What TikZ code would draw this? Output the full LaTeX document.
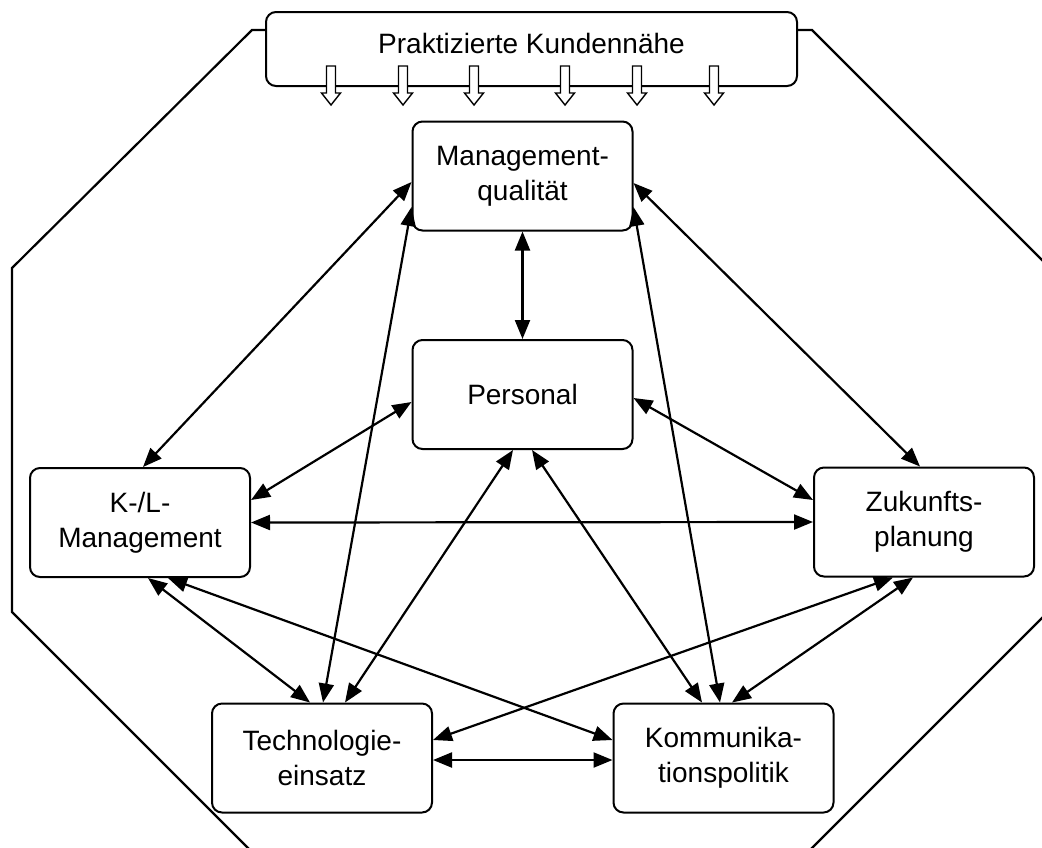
\documentclass[tikz,border=0pt]{standalone}
\usepackage{fontspec}
\setmainfont{Liberation Sans}
\usetikzlibrary{arrows.meta,calc}
\begin{document}
\begin{tikzpicture}[x=0.5pt,y=-0.5pt,
  box/.style={draw,line width=1pt,rounded corners=5pt,fill=white,
    minimum width=110pt,minimum height=54.5pt,align=center,inner sep=0pt,
    font=\fontsize{14pt}{17.5pt}\selectfont},
  lbl/.style={inner sep=0pt,font=\fontsize{14pt}{17.5pt}\selectfont},
  link/.style={line width=1.1pt,{Triangle[length=9.5pt,width=7.5pt]}-{Triangle[length=9.5pt,width=7.5pt]}},
  frame/.style={line width=1.1pt},
  hollow/.style={draw,fill=white,line width=0.7pt,line join=miter}]
\useasboundingbox (0,0) rectangle (1042,847);
\clip (0,0) rectangle (1042,847);
% octagon frame
\draw[frame] (267,30) -- (252,30) -- (12,268) -- (12,612) -- (255,855) -- (805,855)
  -- (1050,610) -- (1050,268) -- (812,30) -- (797,30);
% top box
\node[box,minimum width=265.5pt,minimum height=37pt] (kn) at (531.5,49) {};
\node[lbl] (kntext) at (531.5,43) {Praktizierte Kundennähe};
\foreach \x in {331,403,474,565,637,714}
  \draw[hollow] (\x-4.5,66) -- (\x+4.5,66) -- (\x+4.5,93) -- (\x+9.5,93) -- (\x,105)
    -- (\x-9.5,93) -- (\x-4.5,93) -- cycle;
% main nodes
\node[box] (mq) at (522.5,176) {Management-\\qualität};
\node[box] (pe) at (522.5,394.5) {Personal};
\node[box] (kl) at (140,522.5) {K-/L-\\Management};
\node[box] (zp) at (924,522) {Zukunfts-\\planung};
\node[box] (te) at (322,758) {Technologie-\\einsatz};
\node[box] (ko) at (723.5,758) {Kommunika-\\tionspolitik};
% connectors
\draw[link] ($(mq.west)+(0,6)$) -- ($(kl.north)+(3,0)$);
\draw[link] ($(mq.east)+(0,7)$) -- ($(zp.north)+(-4,0)$);
\draw[link] (mq.south) -- (pe.north);
\draw[link] ($(mq.west)+(0,31)$) -- ($(te.north)+(1,0)$);
\draw[link] ($(mq.east)+(0,31)$) -- ($(ko.north)+(-3.5,0)$);
\draw[link] ($(pe.west)+(0,7.5)$) -- ($(kl.east)+(0,-22.5)$);
\draw[link] ($(pe.east)+(0,3.5)$) -- ($(zp.west)+(0,-22)$);
\draw[link] ($(pe.south)+(-9.5,0)$) -- ($(te.north)+(23,0)$);
\draw[link] ($(pe.south)+(9.5,0)$) -- ($(ko.north)+(-21.5,0)$);
\draw[link] (kl.east) -- (zp.west);
\draw[link] ($(kl.south)+(8,0)$) -- ($(te.north)+(-12,0)$);
\draw[link] ($(kl.south)+(28,0)$) -- ($(ko.west)+(0,-18)$);
\draw[link] ($(zp.south)+(-31,0)$) -- ($(te.east)+(0,-18)$);
\draw[link] ($(zp.south)+(-11,0)$) -- ($(ko.north)+(8.5,0)$);
\draw[link] ($(te.east)+(0,2)$) -- ($(ko.west)+(0,2)$);
\end{tikzpicture}
\end{document}
